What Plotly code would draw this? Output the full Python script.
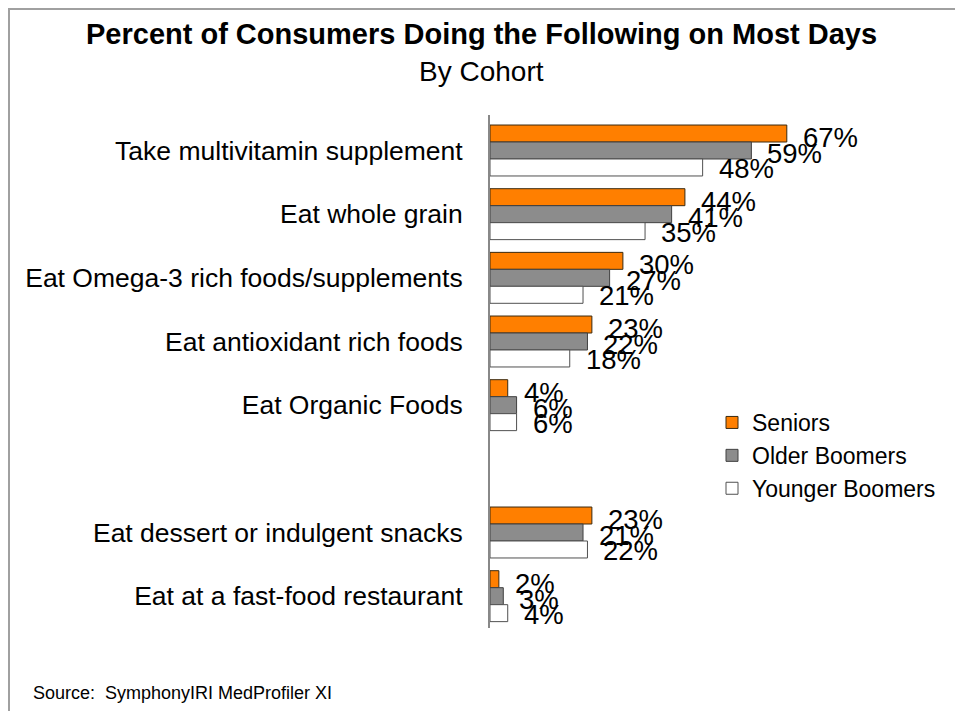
import plotly.graph_objects as go

categories = [
    "Take multivitamin supplement",
    "Eat whole grain",
    "Eat Omega-3 rich foods/supplements",
    "Eat antioxidant rich foods",
    "Eat Organic Foods",
    " ",
    "Eat dessert or indulgent snacks",
    "Eat at a fast-food restaurant",
]
series_names = ["Seniors", "Older Boomers", "Younger Boomers"]
seniors = [67, 44, 30, 23, 4, None, 23, 2]
older_boomers = [59, 41, 27, 22, 6, None, 21, 3]
younger_boomers = [48, 35, 21, 18, 6, None, 22, 4]

title_text = "Percent of Consumers Doing the Following on Most Days"
subtitle_text = "By Cohort"
source_text = "Source:  SymphonyIRI MedProfiler XI"

OFF = 8  # page body margin in the browser
W, H = 963 - OFF, 711 - OFF
L, T = 490 - OFF, 115 - OFF
PW, PH = 443, 513
R = W - L - PW
B = H - T - PH

FONT = "Liberation Sans, Arial, sans-serif"


def px2x(px):
    return (px - OFF - L) / PW


def py2y(py):
    return (T + PH - (py - OFF)) / PH


fills = ["#FF7F00", "#8C8C8C", "#FFFFFF"]
lines = ["#3A2A10", "#404040", "#505050"]
values = [seniors, older_boomers, younger_boomers]
label_yshift = [13, -3, -18]

fig = go.Figure()
for name, vals, fc, lc in zip(series_names, values, fills, lines):
    fig.add_trace(go.Bar(
        y=categories, x=vals, name=name, orientation="h",
        marker=dict(color=fc, line=dict(color=lc, width=1)),
        hoverinfo="skip",
    ))

annotations = []
for vals, ys in zip(values, label_yshift):
    for cat, v in zip(categories, vals):
        if v is None:
            continue
        annotations.append(dict(
            x=v, y=cat, xref="x", yref="y", text=f"{v}%", showarrow=False,
            xanchor="left", yanchor="middle", xshift=14, yshift=ys,
            font=dict(family=FONT, size=27.5, color="black"),
        ))

annotations.append(dict(
    x=px2x(481), y=py2y(34), xref="paper", yref="paper", text=f"<b>{title_text}</b>",
    showarrow=False, xanchor="center", yanchor="middle",
    font=dict(family=FONT, size=29, color="black"),
))
annotations.append(dict(
    x=px2x(481), y=py2y(71), xref="paper", yref="paper", text=subtitle_text,
    showarrow=False, xanchor="center", yanchor="middle",
    font=dict(family=FONT, size=28, color="black"),
))
annotations.append(dict(
    x=px2x(31), y=py2y(693), xref="paper", yref="paper", text=source_text,
    showarrow=False, xanchor="left", yanchor="middle",
    font=dict(family=FONT, size=18, color="black"),
))

fig.update_layout(
    width=W, height=H,
    margin=dict(l=L, r=R, t=T, b=B, pad=0),
    paper_bgcolor="white", plot_bgcolor="white",
    barmode="group", bargap=0.2, bargroupgap=0,
    showlegend=True,
    legend=dict(
        x=px2x(712), y=py2y(401), xanchor="left", yanchor="top",
        font=dict(family=FONT, size=23, color="black"),
        bgcolor="rgba(0,0,0,0)", traceorder="normal",
    ),
    xaxis=dict(range=[0, 100], visible=False, showgrid=False, zeroline=False, fixedrange=True),
    yaxis=dict(
        categoryorder="array", categoryarray=categories, autorange="reversed",
        showline=True, linecolor="#888888", linewidth=2, showgrid=False, zeroline=False,
        ticks="", ticklabelstandoff=20,
        tickfont=dict(family=FONT, size=26.5, color="black"),
    ),
    annotations=annotations,
    shapes=[dict(
        type="rect", xref="paper", yref="paper",
        x0=px2x(9), x1=px2x(959), y0=py2y(740), y1=py2y(9),
        line=dict(color="#A0A0A0", width=2), fillcolor="rgba(0,0,0,0)",
    )],
)

fig.write_html("out.html")
